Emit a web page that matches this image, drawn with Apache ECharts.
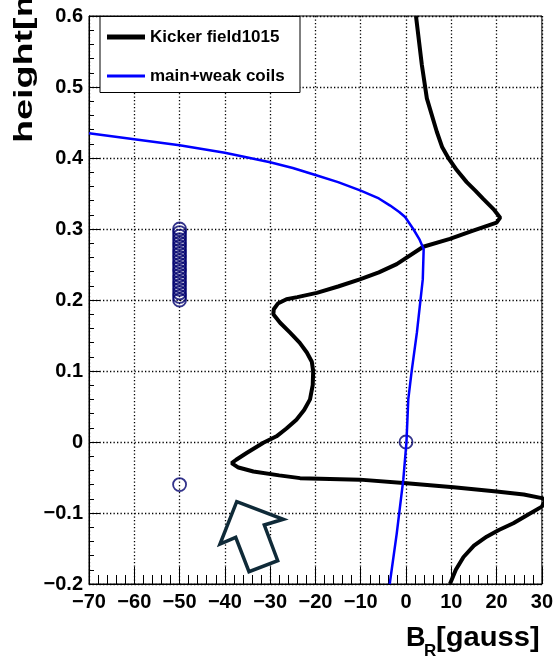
<!DOCTYPE html>
<html>
<head>
<meta charset="utf-8">
<script src="https://cdn.jsdelivr.net/npm/echarts@6/dist/echarts.min.js"></script>
<style>
html,body{margin:0;padding:0;background:#fff;}
#chart{width:556px;height:657px;}
</style>
</head>
<body>
<div id="chart"></div>
<script>
// Kicker field (B_R [gauss], height [m])
const kickerX = [2.2, 3.5, 4.6, 6.8, 8.0, 9.35, 11.2, 13.4, 15.3, 17.1, 19.3, 20.8, 20.0, 14.5, 9.7, 3.8, -2.05, -6.0, -10.2, -15.0, -19.7, -24.0, -26.4, -28.3, -29.2, -29.3, -27.8, -25.6, -23.5, -21.9, -20.8, -20.5, -20.6, -21.2, -22.5, -24.2, -26.4, -28.6, -31.5, -35.2, -37.5, -38.5, -37.0, -33.7, -28.0, -23.4, -10.2, 0.15, 10.5, 20.0, 26.0, 30.0, 30.8, 30.0, 27.0, 23.7, 20.5, 17.8, 15.0, 12.7, 11.0, 9.7];
const kickerY = [0.600, 0.531, 0.484, 0.437, 0.415, 0.400, 0.383, 0.366, 0.354, 0.342, 0.328, 0.316, 0.309, 0.297, 0.286, 0.275, 0.2506, 0.239, 0.229, 0.219, 0.210, 0.204, 0.201, 0.195, 0.187, 0.180, 0.168, 0.154, 0.140, 0.126, 0.113, 0.0998, 0.080, 0.060, 0.045, 0.0315, 0.019, 0.008, -0.001, -0.0155, -0.025, -0.0297, -0.036, -0.0415, -0.047, -0.0509, -0.053, -0.058, -0.0636, -0.0698, -0.074, -0.079, -0.082, -0.091, -0.102, -0.1145, -0.124, -0.1334, -0.146, -0.162, -0.180, -0.200];
// main + weak coils
const coilsX = [-70, -60, -50, -40, -30, -25, -20, -15, -10, -6, -3.5, -1.5, -0.2, 1.6, 3.0, 3.9, 3.7, 2.4, 1.25, 0.5, 0.1, -0.6, -2.05, -3.6];
const coilsY = [0.435, 0.4265, 0.418, 0.4075, 0.394, 0.386, 0.376, 0.366, 0.354, 0.343, 0.333, 0.324, 0.317, 0.300, 0.285, 0.272, 0.229, 0.154, 0.0998, 0.060, 0.0, -0.053, -0.129, -0.200];
// open circle markers
const markerX = [-50, -50, -50, -50, -50, -50, -50, -50, -50, -50, -50, -50, -50, -50, -50, -50, -50, -50, -50, -50, -50, -50, 0];
const markerY = [0.200, 0.205, 0.210, 0.215, 0.220, 0.225, 0.230, 0.235, 0.240, 0.245, 0.250, 0.255, 0.260, 0.265, 0.270, 0.275, 0.280, 0.285, 0.290, 0.295, 0.300, -0.06, 0.0];
// axis ticks
const xTicks = [-70, -60, -50, -40, -30, -20, -10, 0, 10, 20, 30];
const yTicks = [-0.2, -0.1, 0, 0.1, 0.2, 0.3, 0.4, 0.5, 0.6];
const seriesNames = ['Kicker field1015', 'main+weak coils'];

const zip = (a, b) => a.map((v, i) => [v, b[i]]);
const minus = s => String(s).replace('-', '\u2212');
const FONT = 'Liberation Sans';

const chart = echarts.init(document.getElementById('chart'), null, {renderer: 'canvas'});
const dotted = {color: '#000', width: 1.3, type: [1.3, 2.2]};

chart.setOption({
  animation: false,
  backgroundColor: '#fff',
  grid: {left: 89, right: 14, top: 16, bottom: 73, show: true, borderColor: '#000', borderWidth: 1, backgroundColor: 'transparent'},
  xAxis: {
    type: 'value', min: xTicks[0], max: xTicks[xTicks.length - 1], interval: 10,
    axisLine: {show: true, onZero: false, lineStyle: {color: '#000', width: 1}},
    axisTick: {show: true, inside: true, length: 17, lineStyle: {color: '#000', width: 1}},
    minorTick: {show: true, splitNumber: 5, length: 9, lineStyle: {color: '#000', width: 1}},
    splitLine: {show: true, lineStyle: dotted},
    axisLabel: {color: '#000', fontFamily: FONT, fontWeight: 'bold', fontSize: 20, margin: 8,
      formatter: v => minus(Math.round(v))}
  },
  yAxis: {
    type: 'value', min: yTicks[0], max: yTicks[yTicks.length - 1], interval: 0.1,
    axisLine: {show: true, onZero: false, lineStyle: {color: '#000', width: 1}},
    axisTick: {show: true, inside: true, length: 11, lineStyle: {color: '#000', width: 1}},
    minorTick: {show: true, splitNumber: 5, length: 5, lineStyle: {color: '#000', width: 1}},
    splitLine: {show: true, lineStyle: dotted},
    axisLabel: {color: '#000', fontFamily: FONT, fontWeight: 'bold', fontSize: 20, margin: 6,
      formatter: v => { const r = Math.round(v * 10) / 10; return r === 0 ? '0' : minus(r.toFixed(1)); }}
  },
  legend: {
    show: true, orient: 'vertical', left: 107, top: 28, z: 20, padding: 0,
    itemWidth: 38, itemHeight: 5, itemGap: 21,
    textStyle: {color: '#000', fontFamily: FONT, fontWeight: 'bold', fontSize: 17, lineHeight: 18},
    data: [
      {name: seriesNames[0], icon: 'rect', itemStyle: {color: '#000'}},
      {name: seriesNames[1], icon: 'path://M0,0L0.01,0M0,5L0.01,5M0,1H38V4H0Z', itemStyle: {color: '#0000ff'}}
    ]
  },
  graphic: [
    {type: 'rect', z: 10, shape: {x: 100, y: 16.5, width: 200, height: 76}, style: {fill: '#fff', stroke: '#000', lineWidth: 1}},
    {type: 'polygon', z: 10,
      shape: {points: [[236.7, 501.7], [283.3, 519.3], [264.3, 525], [277.7, 560.7], [249, 571.7], [235.7, 537.3], [220, 544]]},
      style: {fill: '#fff', stroke: '#0f2a38', lineWidth: 3.5, lineJoin: 'miter'}},
    {type: 'text', z: 10, x: 25, y: 143, rotation: Math.PI / 2, scaleX: 1.45,
      style: {text: 'height[m]', font: 'bold 26px "Liberation Sans"', fill: '#000', align: 'left', verticalAlign: 'middle'}},
    {type: 'text', z: 10, x: 406, y: 625,
      style: {text: 'B', font: 'bold 27px "Liberation Sans"', fill: '#000', align: 'left', verticalAlign: 'top'}},
    {type: 'text', z: 10, x: 424, y: 643,
      style: {text: 'R', font: 'bold 17px "Liberation Sans"', fill: '#000', align: 'left', verticalAlign: 'top'}},
    {type: 'text', z: 10, x: 436, y: 625, scaleX: 1.08,
      style: {text: '[gauss]', font: 'bold 27px "Liberation Sans"', fill: '#000', align: 'left', verticalAlign: 'top'}}
  ],
  series: [
    {name: seriesNames[0], type: 'line', data: zip(kickerX, kickerY), showSymbol: false, symbol: 'none', clip: true,
      lineStyle: {color: '#000', width: 4}, itemStyle: {color: '#000'}, z: 3},
    {name: seriesNames[1], type: 'line', data: zip(coilsX, coilsY), showSymbol: false, symbol: 'none', clip: true,
      lineStyle: {color: '#0000ff', width: 2.5}, itemStyle: {color: '#0000ff'}, z: 4},
    {name: 'markers', type: 'scatter', data: zip(markerX, markerY), symbol: 'circle', symbolSize: 13,
      itemStyle: {color: 'transparent', borderColor: '#00006e', borderWidth: 1.8}, z: 3}
  ]
});
</script>
</body>
</html>
